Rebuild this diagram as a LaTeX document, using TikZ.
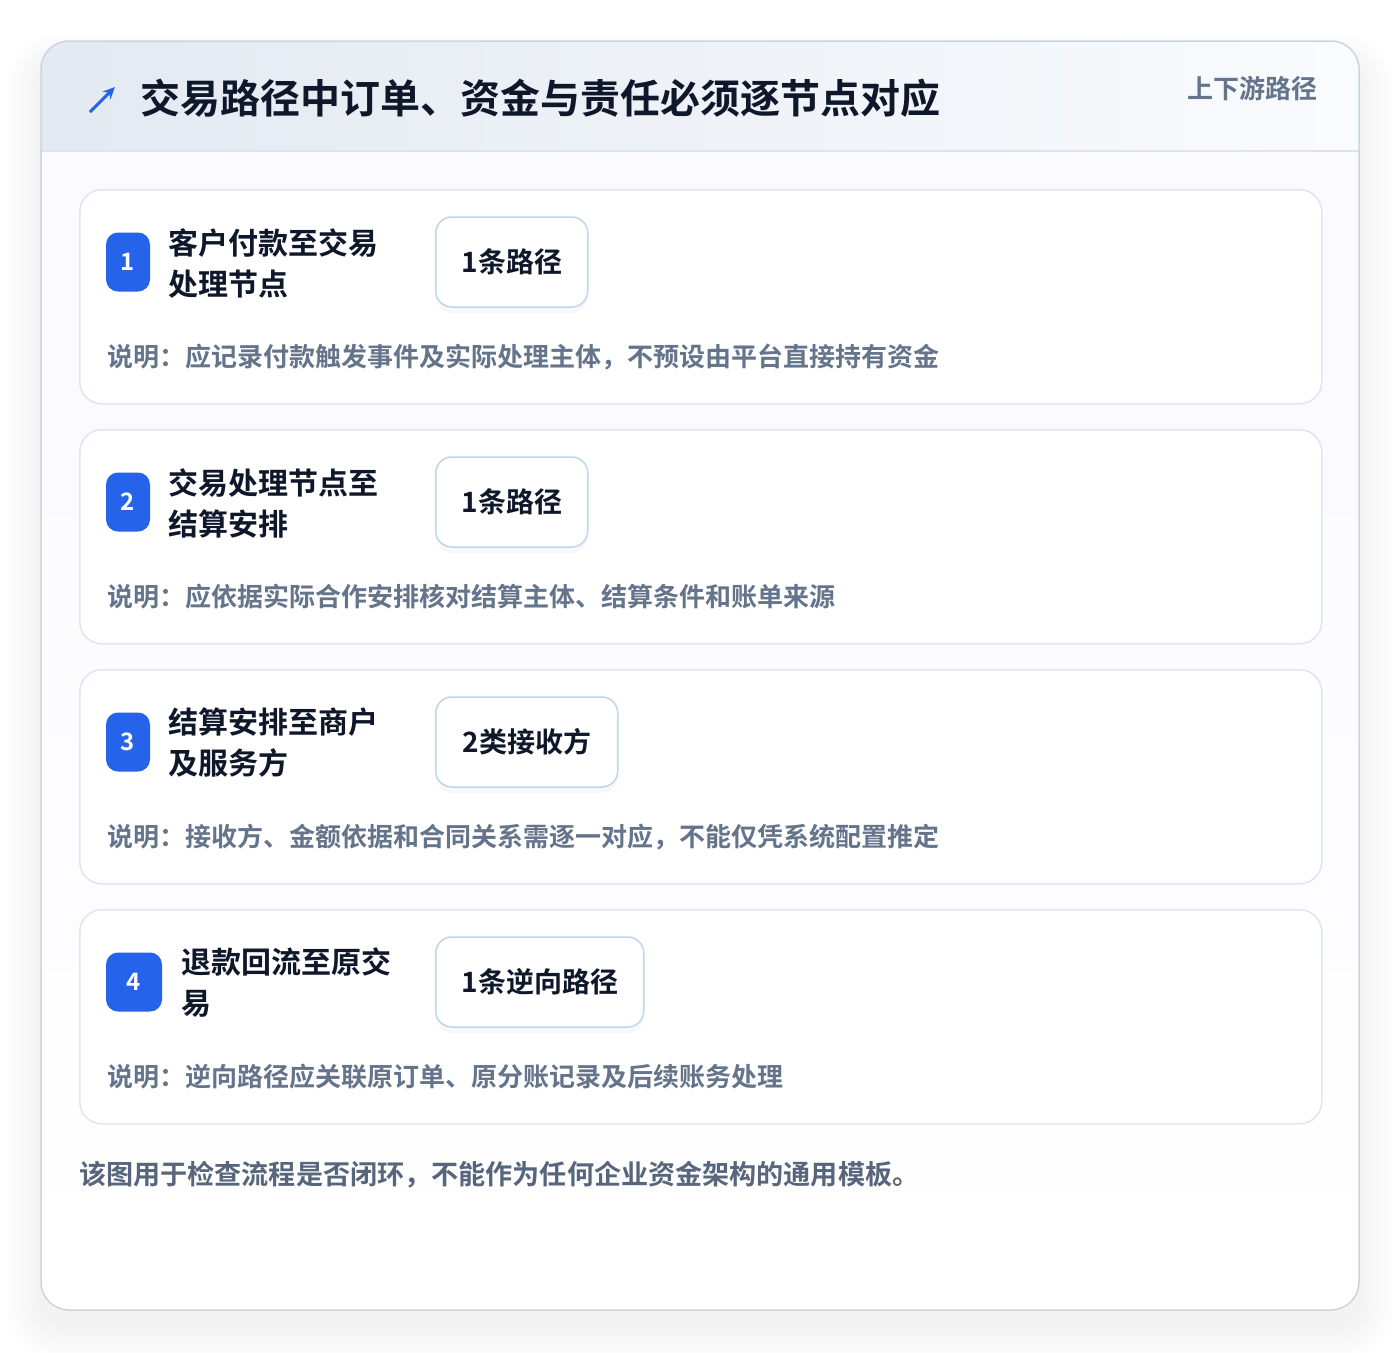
\documentclass[tikz,border=0pt]{standalone}
\usepackage{fontspec}
\setmainfont{Noto Sans CJK SC}[BoldFont=* Bold]
\usetikzlibrary{positioning,arrows.meta,shadows}

\definecolor{accent}{HTML}{2563EB}
\definecolor{ink}{HTML}{0F172A}
\definecolor{slate}{HTML}{64748B}
\definecolor{cardline}{HTML}{CBD5E1}
\definecolor{headline}{HTML}{DAE5F4}
\definecolor{stepline}{HTML}{DCE7F6}
\definecolor{valline}{HTML}{BDD4F2}

\newcommand\hdfont{\fontsize{40}{46}\selectfont\bfseries}
\newcommand\tagfont{\fontsize{26}{30}\selectfont\bfseries}
\newcommand\stepfont{\fontsize{30}{41}\selectfont\bfseries}
\newcommand\valfont{\fontsize{28}{32}\selectfont\bfseries}
\newcommand\notefont{\fontsize{26}{30}\selectfont\bfseries}

\begin{document}
\begin{tikzpicture}[x=1pt,y=-1pt,
    stepcard/.style={draw=stepline, line width=1.5pt, fill=white, rounded corners=22pt,
      minimum width=1242pt, minimum height=214pt, anchor=north west, inner sep=0pt},
    numbox/.style={fill=accent, text=white, rounded corners=12pt, minimum height=59pt,
      font=\fontsize{24}{26}\selectfont\bfseries, inner sep=0pt},
    steptext/.style={anchor=west, align=left, text=ink, font=\stepfont, inner sep=0pt},
    valbox/.style={draw=valline, line width=1.5pt, fill=white, rounded corners=16pt,
      minimum height=90pt, anchor=west, text=ink, font=\valfont, inner sep=0pt,
      drop shadow={opacity=0.05, shadow xshift=0pt, shadow yshift=-6pt}},
    notetext/.style={anchor=west, text=slate, font=\notefont, inner sep=0pt}]
  \useasboundingbox[fill=white] (0,0) rectangle (1400,1352);

  % soft shadow round the card
  \foreach \k in {1,...,12}
    \fill[black, opacity=0.005, rounded corners={28pt+2pt*\k}]
      (41-3*\k, 58-2*\k) rectangle (1359+3*\k, 1326+3*\k);

  % card body and header
  \begin{scope}
    \clip[rounded corners=28pt] (41,41) rectangle (1359,1310);
    \fill[white] (41,41) rectangle (1359,1310);
    \shade[top color=blue!2!white, bottom color=white] (41,151) rectangle (1359,1310);
    \shade[left color=headline!40!cardline!60!white, right color=headline!15!white]
      (41,41) rectangle (1359,151);
  \end{scope}
  \draw[headline, line width=1.5pt] (41,151) -- (1359,151);
  \draw[cardline, line width=1.5pt, rounded corners=28pt] (41,41) rectangle (1359,1310);

  \draw[accent, line width=3pt, -{Stealth[length=12pt, width=11pt]}] (90,112) -- (115,87);
  \node[anchor=west, text=ink, font=\hdfont, inner sep=0pt] (title) at (140,98)
    {交易路径中订单、资金与责任必须逐节点对应};
  \node[anchor=east, text=slate, font=\tagfont, inner sep=0pt] (tag) at (1318,89) {上下游路径};

  % step 1
  \node[stepcard] (card1) at (79,189) {};
  \node[numbox, minimum width=44pt] (num1) at (128,262) {1};
  \node[steptext] (step1) at (168,263) {客户付款至交易\\处理节点};
  \node[valbox, minimum width=152pt] (val1) at (435,262) {1条路径};
  \node[notetext] (note1) at (107,357) {说明：应记录付款触发事件及实际处理主体，不预设由平台直接持有资金};

  % step 2
  \node[stepcard] (card2) at (79,429) {};
  \node[numbox, minimum width=44pt] (num2) at (128,502) {2};
  \node[steptext] (step2) at (168,503) {交易处理节点至\\结算安排};
  \node[valbox, minimum width=152pt] (val2) at (435,502) {1条路径};
  \node[notetext] (note2) at (107,597) {说明：应依据实际合作安排核对结算主体、结算条件和账单来源};

  % step 3
  \node[stepcard] (card3) at (79,669) {};
  \node[numbox, minimum width=44pt] (num3) at (128,742) {3};
  \node[steptext] (step3) at (168,743) {结算安排至商户\\及服务方};
  \node[valbox, minimum width=182pt] (val3) at (435,742) {2类接收方};
  \node[notetext] (note3) at (107,837) {说明：接收方、金额依据和合同关系需逐一对应，不能仅凭系统配置推定};

  % step 4
  \node[stepcard] (card4) at (79,909) {};
  \node[numbox, minimum width=56pt] (num4) at (134,982) {4};
  \node[steptext] (step4) at (181,983) {退款回流至原交\\易};
  \node[valbox, minimum width=208pt] (val4) at (435,982) {1条逆向路径};
  \node[notetext] (note4) at (107,1077) {说明：逆向路径应关联原订单、原分账记录及后续账务处理};

  \node[anchor=west, text=slate!85!ink, font=\fontsize{27.1}{30}\selectfont\bfseries, inner sep=0pt]
    (foot) at (79,1175) {该图用于检查流程是否闭环，不能作为任何企业资金架构的通用模板。};
\end{tikzpicture}
\end{document}
